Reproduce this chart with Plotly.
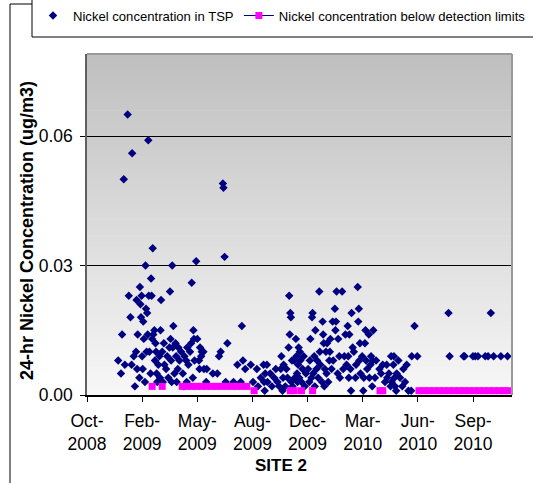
import plotly.graph_objects as go

# ---------------- data ----------------
tsp_points = [
    ("2008-12-26", 0.008), ("2008-12-31", 0.005), ("2009-01-02", 0.014), ("2009-01-05", 0.050),
    ("2009-01-07", 0.007), ("2009-01-12", 0.065), ("2009-01-14", 0.023), ("2009-01-17", 0.018),
    ("2009-01-19", 0.007), ("2009-01-20", 0.056), ("2009-01-23", 0.009), ("2009-01-25", 0.002),
    ("2009-01-27", 0.010), ("2009-01-28", 0.022), ("2009-01-29", 0.006), ("2009-01-30", 0.014),
    ("2009-02-02", 0.004), ("2009-02-03", 0.025), ("2009-02-04", 0.021), ("2009-02-05", 0.018),
    ("2009-02-06", 0.023), ("2009-02-07", 0.009), ("2009-02-08", 0.006), ("2009-02-09", 0.017),
    ("2009-02-10", 0.013), ("2009-02-12", 0.003), ("2009-02-13", 0.030), ("2009-02-14", 0.020),
    ("2009-02-15", 0.010), ("2009-02-16", 0.019), ("2009-02-17", 0.014), ("2009-02-18", 0.059),
    ("2009-02-19", 0.023), ("2009-02-20", 0.010), ("2009-02-22", 0.005), ("2009-02-23", 0.027),
    ("2009-02-24", 0.023), ("2009-02-25", 0.013), ("2009-02-26", 0.034), ("2009-02-27", 0.014),
    ("2009-03-01", 0.015), ("2009-03-02", 0.008), ("2009-03-03", 0.012), ("2009-03-04", 0.010),
    ("2009-03-05", 0.005), ("2009-03-06", 0.003), ("2009-03-08", 0.007), ("2009-03-10", 0.009),
    ("2009-03-11", 0.004), ("2009-03-12", 0.015), ("2009-03-13", 0.022), ("2009-03-15", 0.010),
    ("2009-03-16", 0.003), ("2009-03-18", 0.012), ("2009-03-19", 0.007), ("2009-03-22", 0.006),
    ("2009-03-24", 0.009), ("2009-03-26", 0.004), ("2009-03-28", 0.011), ("2009-03-29", 0.024),
    ("2009-03-30", 0.013), ("2009-03-31", 0.008), ("2009-04-01", 0.003), ("2009-04-02", 0.030),
    ("2009-04-03", 0.011), ("2009-04-04", 0.016), ("2009-04-06", 0.005), ("2009-04-08", 0.012),
    ("2009-04-09", 0.009), ("2009-04-10", 0.003), ("2009-04-12", 0.006), ("2009-04-13", 0.011),
    ("2009-04-15", 0.008), ("2009-04-18", 0.010), ("2009-04-21", 0.005), ("2009-04-23", 0.002),
    ("2009-04-24", 0.009), ("2009-04-27", 0.008), ("2009-04-28", 0.003), ("2009-04-29", 0.011),
    ("2009-05-01", 0.007), ("2009-05-04", 0.010), ("2009-05-06", 0.012), ("2009-05-07", 0.026),
    ("2009-05-09", 0.004), ("2009-05-10", 0.015), ("2009-05-11", 0.013), ("2009-05-12", 0.008),
    ("2009-05-15", 0.031), ("2009-05-17", 0.013), ("2009-05-20", 0.008), ("2009-05-21", 0.006),
    ("2009-05-22", 0.011), ("2009-05-24", 0.009), ("2009-05-25", 0.010), ("2009-05-28", 0.010),
    ("2009-05-29", 0.006), ("2009-06-02", 0.003), ("2009-06-03", 0.006), ("2009-06-14", 0.005),
    ("2009-06-22", 0.005), ("2009-06-25", 0.009), ("2009-06-28", 0.010), ("2009-07-02", 0.049),
    ("2009-07-03", 0.048), ("2009-07-05", 0.032), ("2009-07-07", 0.003), ("2009-07-10", 0.012),
    ("2009-07-21", 0.003), ("2009-07-28", 0.007), ("2009-08-03", 0.003), ("2009-08-05", 0.016),
    ("2009-08-07", 0.008), ("2009-08-11", 0.006), ("2009-08-21", 0.007), ("2009-08-25", 0.003),
    ("2009-09-01", 0.006), ("2009-09-03", 0.002), ("2009-09-08", 0.004), ("2009-09-13", 0.007),
    ("2009-09-14", 0.003), ("2009-09-15", 0.001), ("2009-09-16", 0.005), ("2009-09-19", 0.007),
    ("2009-09-20", 0.003), ("2009-09-25", 0.005), ("2009-09-28", 0.002), ("2009-10-02", 0.004),
    ("2009-10-05", 0.006), ("2009-10-08", 0.003), ("2009-10-11", 0.002), ("2009-10-14", 0.006),
    ("2009-10-15", 0.009), ("2009-10-17", 0.001), ("2009-10-18", 0.004), ("2009-10-19", 0.007),
    ("2009-10-22", 0.002), ("2009-10-24", 0.006), ("2009-10-26", 0.004), ("2009-10-28", 0.011),
    ("2009-10-29", 0.023), ("2009-10-30", 0.014), ("2009-10-31", 0.019), ("2009-11-01", 0.018),
    ("2009-11-02", 0.003), ("2009-11-03", 0.008), ("2009-11-04", 0.002), ("2009-11-07", 0.008),
    ("2009-11-08", 0.004), ("2009-11-10", 0.013), ("2009-11-11", 0.009), ("2009-11-12", 0.005),
    ("2009-11-13", 0.003), ("2009-11-14", 0.007), ("2009-11-15", 0.011), ("2009-11-16", 0.004),
    ("2009-11-17", 0.010), ("2009-11-18", 0.008), ("2009-11-20", 0.003), ("2009-11-22", 0.006),
    ("2009-11-24", 0.009), ("2009-11-26", 0.002), ("2009-11-28", 0.005), ("2009-12-02", 0.006),
    ("2009-12-04", 0.003), ("2009-12-05", 0.008), ("2009-12-06", 0.013), ("2009-12-08", 0.004),
    ("2009-12-09", 0.018), ("2009-12-10", 0.019), ("2009-12-11", 0.005), ("2009-12-13", 0.009),
    ("2009-12-14", 0.002), ("2009-12-15", 0.015), ("2009-12-17", 0.006), ("2009-12-18", 0.008),
    ("2009-12-20", 0.004), ("2009-12-22", 0.024), ("2009-12-23", 0.010), ("2009-12-24", 0.007),
    ("2009-12-27", 0.003), ("2009-12-28", 0.017), ("2009-12-29", 0.014), ("2009-12-30", 0.012),
    ("2009-12-31", 0.002), ("2010-01-01", 0.006), ("2010-01-03", 0.010), ("2010-01-04", 0.005),
    ("2010-01-05", 0.012), ("2010-01-07", 0.003), ("2010-01-09", 0.008), ("2010-01-10", 0.010),
    ("2010-01-11", 0.013), ("2010-01-13", 0.006), ("2010-01-15", 0.017), ("2010-01-16", 0.008),
    ("2010-01-19", 0.020), ("2010-01-20", 0.015), ("2010-01-21", 0.017), ("2010-01-22", 0.024),
    ("2010-01-24", 0.005), ("2010-01-25", 0.013), ("2010-01-27", 0.009), ("2010-01-28", 0.004),
    ("2010-02-01", 0.024), ("2010-02-03", 0.006), ("2010-02-05", 0.009), ("2010-02-07", 0.014),
    ("2010-02-09", 0.007), ("2010-02-11", 0.016), ("2010-02-12", 0.009), ("2010-02-13", 0.004),
    ("2010-02-14", 0.014), ("2010-02-16", 0.006), ("2010-02-17", 0.001), ("2010-02-18", 0.019),
    ("2010-02-20", 0.011), ("2010-02-22", 0.010), ("2010-02-25", 0.004), ("2010-02-26", 0.007),
    ("2010-03-01", 0.025), ("2010-03-02", 0.017), ("2010-03-03", 0.020), ("2010-03-04", 0.008),
    ("2010-03-05", 0.012), ("2010-03-06", 0.005), ("2010-03-09", 0.009), ("2010-03-11", 0.001),
    ("2010-03-12", 0.004), ("2010-03-14", 0.012), ("2010-03-15", 0.015), ("2010-03-16", 0.008),
    ("2010-03-18", 0.006), ("2010-03-21", 0.014), ("2010-03-22", 0.004), ("2010-03-24", 0.007),
    ("2010-03-25", 0.009), ("2010-03-27", 0.002), ("2010-03-28", 0.008), ("2010-03-29", 0.015),
    ("2010-04-01", 0.004), ("2010-04-03", 0.008), ("2010-04-09", 0.006), ("2010-04-12", 0.005),
    ("2010-04-15", 0.007), ("2010-04-19", 0.003), ("2010-04-22", 0.007), ("2010-04-23", 0.004),
    ("2010-04-26", 0.005), ("2010-04-29", 0.002), ("2010-04-30", 0.009), ("2010-05-01", 0.003),
    ("2010-05-04", 0.007), ("2010-05-05", 0.009), ("2010-05-06", 0.004), ("2010-05-07", 0.002),
    ("2010-05-09", 0.001), ("2010-05-10", 0.005), ("2010-05-13", 0.008), ("2010-05-16", 0.004),
    ("2010-05-20", 0.002), ("2010-05-22", 0.006), ("2010-05-25", 0.003), ("2010-05-28", 0.007),
    ("2010-05-31", 0.001), ("2010-06-05", 0.001), ("2010-06-06", 0.009), ("2010-06-11", 0.016),
    ("2010-06-16", 0.009), ("2010-08-11", 0.019), ("2010-08-13", 0.009), ("2010-09-07", 0.009),
    ("2010-09-09", 0.009), ("2010-09-24", 0.009), ("2010-09-28", 0.009), ("2010-10-03", 0.009),
    ("2010-10-16", 0.009), ("2010-10-21", 0.009), ("2010-10-26", 0.019), ("2010-10-31", 0.009),
    ("2010-11-13", 0.009), ("2010-11-25", 0.009),
]

bdl_points = [
    ("2009-02-25", 0.002), ("2009-03-15", 0.002), ("2009-04-20", 0.002), ("2009-04-28", 0.002),
    ("2009-05-07", 0.002), ("2009-05-16", 0.002), ("2009-05-25", 0.002), ("2009-06-03", 0.002),
    ("2009-06-12", 0.002), ("2009-06-21", 0.002), ("2009-06-30", 0.002), ("2009-07-09", 0.002),
    ("2009-07-18", 0.002), ("2009-07-27", 0.002), ("2009-08-05", 0.002), ("2009-08-14", 0.002),
    ("2009-08-27", 0.001), ("2009-10-31", 0.001), ("2009-11-07", 0.001), ("2009-11-20", 0.001),
    ("2009-12-10", 0.001), ("2010-04-10", 0.001), ("2010-04-15", 0.001), ("2010-06-19", 0.001),
    ("2010-06-28", 0.001), ("2010-07-07", 0.001), ("2010-07-16", 0.001), ("2010-07-25", 0.001),
    ("2010-08-03", 0.001), ("2010-08-12", 0.001), ("2010-08-21", 0.001), ("2010-08-30", 0.001),
    ("2010-09-08", 0.001), ("2010-09-17", 0.001), ("2010-09-26", 0.001), ("2010-10-05", 0.001),
    ("2010-10-14", 0.001), ("2010-10-23", 0.001), ("2010-11-01", 0.001), ("2010-11-10", 0.001),
    ("2010-11-19", 0.001), ("2010-11-27", 0.001),
]

tick_dates = ["2008-10-31", "2009-02-07", "2009-05-17", "2009-08-24",
              "2009-12-01", "2010-03-10", "2010-06-17", "2010-09-24"]
tick_labels = ["Oct-2008", "Feb-2009", "May-2009", "Aug-2009",
               "Dec-2009", "Mar-2010", "Jun-2010", "Sep-2010"]
y_ticks = [0.0, 0.03, 0.06]

series_names = ["Nickel concentration in TSP",
                "Nickel concentration below detection limits"]

# ---------------- figure ----------------
FONT = "Liberation Sans, Arial, sans-serif"
W, H = 533, 483
ML, MR, MT, MB = 87, 21, 54, 88
PW, PH = W - ML - MR, H - MT - MB


def px_to_paper(x, y):
    return (x - ML) / PW, (H - MB - y) / PH


fig = go.Figure()

fig.add_trace(go.Scatter(
    x=[p[0] for p in tsp_points], y=[p[1] for p in tsp_points],
    mode="markers", name=series_names[0],
    marker=dict(symbol="diamond", size=6.5, color="#000080"),
))
fig.add_trace(go.Scatter(
    x=[p[0] for p in bdl_points], y=[p[1] for p in bdl_points],
    mode="markers", name=series_names[1], showlegend=False,
    marker=dict(symbol="square", size=7, color="#FF00FF"),
))
# legend entry for the second series (line + square)
fig.add_trace(go.Scatter(
    x=[None], y=[None], mode="lines+markers", name=series_names[1],
    line=dict(color="#000080", width=1),
    marker=dict(symbol="square", size=7, color="#FF00FF"),
))

shapes = []
# gradient background of plot area
N = 60
top = (191, 191, 191)
bot = (247, 247, 247)
for i in range(N):
    f = (i + 0.5) / N  # 0 bottom -> 1 top
    c = tuple(int(round(bot[k] + (top[k] - bot[k]) * f)) for k in range(3))
    shapes.append(dict(type="rect", xref="x domain", yref="y domain",
                       x0=0, x1=1, y0=i / N, y1=min(1.0, (i + 1) / N + 0.002),
                       fillcolor="rgb(%d,%d,%d)" % c, line=dict(width=0),
                       layer="below"))
# plot area top/right border (gray)
shapes.append(dict(type="line", xref="paper", yref="paper",
                   x0=0, x1=1, y0=1, y1=1, line=dict(color="#999999", width=2)))
shapes.append(dict(type="line", xref="paper", yref="paper",
                   x0=1, x1=1, y0=0, y1=1, line=dict(color="#999999", width=2)))
# outer chart frame
fx0, fy0 = px_to_paper(10, 4)
fx1, fy1 = px_to_paper(560, 500)
shapes.append(dict(type="rect", xref="paper", yref="paper",
                   x0=fx0, x1=fx1, y0=fy1, y1=fy0,
                   line=dict(color="black", width=1), fillcolor="rgba(0,0,0,0)"))
# legend box
lx0, ly0 = px_to_paper(32, -10)
lx1, ly1 = px_to_paper(560, 37)
shapes.append(dict(type="rect", xref="paper", yref="paper",
                   x0=lx0, x1=lx1, y0=ly1, y1=ly0,
                   line=dict(color="black", width=1), fillcolor="white"))

ax, ay = px_to_paper(281, 465)
tx, ty = px_to_paper(27, 231)
legx, legy = px_to_paper(33, 16)

fig.update_layout(
    width=W, height=H,
    margin=dict(l=ML, r=MR, t=MT, b=MB, autoexpand=False),
    paper_bgcolor="white", plot_bgcolor="rgba(0,0,0,0)",
    font=dict(family=FONT, color="black", size=16),
    shapes=shapes,
    showlegend=True,
    legend=dict(orientation="h", x=legx, y=legy, xanchor="left", yanchor="middle",
                bgcolor="rgba(0,0,0,0)", borderwidth=0,
                font=dict(family=FONT, size=13.1, color="black"),
                itemclick=False),
    annotations=[
        dict(text="<b>SITE 2</b>", xref="paper", yref="paper", x=ax, y=ay,
             showarrow=False, font=dict(family=FONT, size=17, color="black"),
             xanchor="center", yanchor="middle"),
        dict(text="<b>24-hr Nickel Concentration (ug/m3)</b>", xref="paper", yref="paper",
             x=tx, y=ty, textangle=-90, showarrow=False,
             font=dict(family=FONT, size=18, color="black"),
             xanchor="center", yanchor="middle"),
    ],
)

fig.update_xaxes(
    type="date", range=["2008-10-31", "2010-12-03"],
    tickmode="array", tickvals=tick_dates,
    ticktext=[t.replace("-", "-<br>") for t in tick_labels],
    ticks="outside", ticklen=5, tickcolor="black", tickwidth=1,
    showline=True, linecolor="black", linewidth=2,
    showgrid=False, zeroline=False,
    tickfont=dict(family=FONT, size=17.5, color="black"),
    ticklabelstandoff=4,
)
fig.update_yaxes(
    range=[0, 0.079], tickmode="array", tickvals=y_ticks, tickformat=".2f",
    ticks="outside", ticklen=5, tickcolor="black", tickwidth=1,
    showline=True, linecolor="#606060", linewidth=1.5,
    showgrid=True, gridcolor="black", gridwidth=1, zeroline=False,
    tickfont=dict(family=FONT, size=17.5, color="black"),
    ticklabelstandoff=4,
)

fig.write_html("out.html")
